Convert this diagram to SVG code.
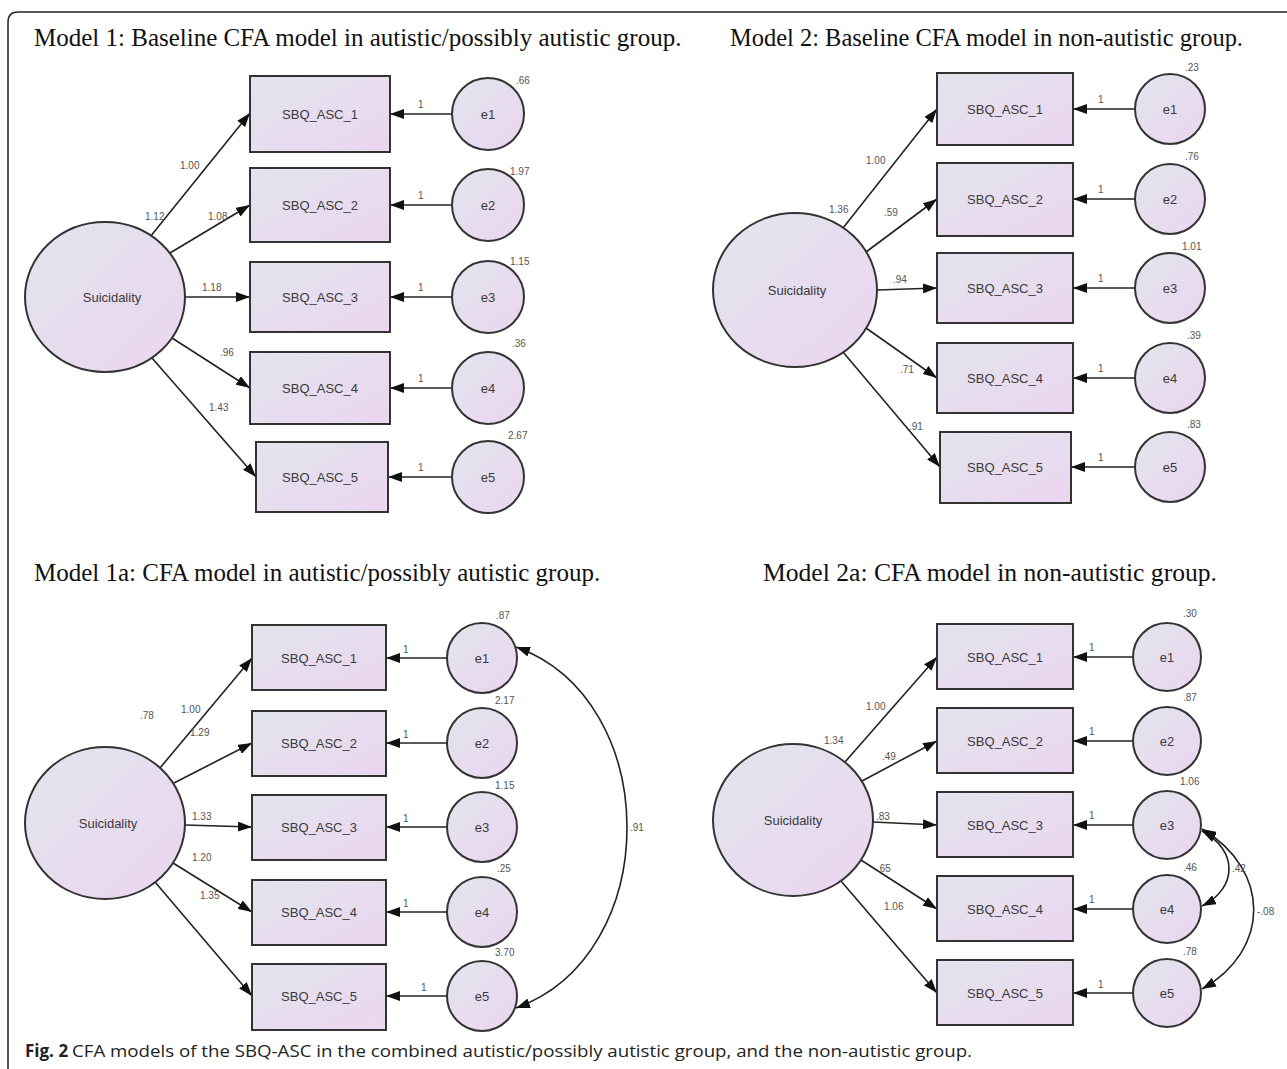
<svg xmlns="http://www.w3.org/2000/svg" width="1287" height="1069" viewBox="0 0 1287 1069">
<style>
.title{font-family:"Liberation Serif","Times New Roman",serif;font-size:25px;fill:#111}
.node{stroke:#333;stroke-width:2}
.box{fill:url(#g)}
.circ{fill:url(#g)}
.lab{font-family:"Liberation Sans",Arial,sans-serif;font-size:13px;fill:#3a3a3a;text-anchor:middle;dominant-baseline:central}
.num{font-family:"Liberation Sans",Arial,sans-serif;font-size:10px;fill:#555}
.con line,.con path{stroke:#222;stroke-width:1.6;fill:none}
.cap{font-family:"Open Sans","Noto Sans",sans-serif;font-size:17px;fill:#222}
</style>
<defs>
<linearGradient id="g" x1="0" y1="0" x2="1" y2="1">
<stop offset="0" stop-color="#e1e5ec"/>
<stop offset="1" stop-color="#ecd5f1"/>
</linearGradient>
<marker id="ah" viewBox="0 0 14 10" refX="14" refY="5" markerWidth="14" markerHeight="10" markerUnits="userSpaceOnUse" orient="auto-start-reverse">
<path d="M0,0 L14,5 L0,10 z" fill="#111"/>
</marker>
</defs>
<rect width="1287" height="1069" fill="#fff"/>
<path d="M8,1069 V22 Q8,12 18,12 H1287" fill="none" stroke="#222" stroke-width="1.5"/>

<text class="title" x="34" y="46">Model 1: Baseline CFA model in autistic/possibly autistic group.</text>
<text class="title" x="730" y="46" textLength="513" lengthAdjust="spacingAndGlyphs">Model 2: Baseline CFA model in non-autistic group.</text>
<text class="title" x="34" y="581">Model 1a: CFA model in autistic/possibly autistic group.</text>
<text class="title" x="763" y="581" textLength="454" lengthAdjust="spacingAndGlyphs">Model 2a: CFA model in non-autistic group.</text>

<!-- connectors -->
<g class="con" id="connectors">
<!-- Model 1 -->
<line x1="150" y1="237" x2="250" y2="113" marker-end="url(#ah)"/>
<line x1="170" y1="253" x2="250" y2="205" marker-end="url(#ah)"/>
<line x1="185" y1="297" x2="250" y2="297" marker-end="url(#ah)"/>
<line x1="172" y1="338" x2="250" y2="388" marker-end="url(#ah)"/>
<line x1="152" y1="358" x2="256" y2="477" marker-end="url(#ah)"/>
<line x1="452" y1="114" x2="390" y2="114" marker-end="url(#ah)"/>
<line x1="452" y1="205" x2="390" y2="205" marker-end="url(#ah)"/>
<line x1="452" y1="297" x2="390" y2="297" marker-end="url(#ah)"/>
<line x1="452" y1="388" x2="390" y2="388" marker-end="url(#ah)"/>
<line x1="452" y1="477" x2="388" y2="477" marker-end="url(#ah)"/>
<!-- Model 2 -->
<line x1="843" y1="228" x2="937" y2="109" marker-end="url(#ah)"/>
<line x1="866" y1="252" x2="937" y2="199" marker-end="url(#ah)"/>
<line x1="877" y1="290" x2="937" y2="288" marker-end="url(#ah)"/>
<line x1="866" y1="328" x2="937" y2="378" marker-end="url(#ah)"/>
<line x1="843" y1="352" x2="940" y2="467" marker-end="url(#ah)"/>
<line x1="1135" y1="109" x2="1073" y2="109" marker-end="url(#ah)"/>
<line x1="1135" y1="199" x2="1073" y2="199" marker-end="url(#ah)"/>
<line x1="1135" y1="288" x2="1073" y2="288" marker-end="url(#ah)"/>
<line x1="1135" y1="378" x2="1073" y2="378" marker-end="url(#ah)"/>
<line x1="1135" y1="467" x2="1071" y2="467" marker-end="url(#ah)"/>
<!-- Model 1a -->
<line x1="160" y1="768" x2="252" y2="658" marker-end="url(#ah)"/>
<line x1="174" y1="783" x2="252" y2="743" marker-end="url(#ah)"/>
<line x1="185" y1="825" x2="252" y2="827" marker-end="url(#ah)"/>
<line x1="173" y1="863" x2="252" y2="912" marker-end="url(#ah)"/>
<line x1="155" y1="882" x2="252" y2="996" marker-end="url(#ah)"/>
<line x1="447" y1="658" x2="386" y2="658" marker-end="url(#ah)"/>
<line x1="447" y1="743" x2="386" y2="743" marker-end="url(#ah)"/>
<line x1="447" y1="827" x2="386" y2="827" marker-end="url(#ah)"/>
<line x1="447" y1="912" x2="386" y2="912" marker-end="url(#ah)"/>
<line x1="447" y1="996" x2="386" y2="996" marker-end="url(#ah)"/>
<path d="M516,647 C664,700 664,955 516,1008" marker-start="url(#ah)" marker-end="url(#ah)"/>
<!-- Model 2a -->
<line x1="845" y1="762" x2="937" y2="657" marker-end="url(#ah)"/>
<line x1="862" y1="781" x2="937" y2="741" marker-end="url(#ah)"/>
<line x1="873" y1="822" x2="937" y2="825" marker-end="url(#ah)"/>
<line x1="861" y1="860" x2="937" y2="909" marker-end="url(#ah)"/>
<line x1="841" y1="881" x2="937" y2="993" marker-end="url(#ah)"/>
<line x1="1133" y1="657" x2="1073" y2="657" marker-end="url(#ah)"/>
<line x1="1133" y1="741" x2="1073" y2="741" marker-end="url(#ah)"/>
<line x1="1133" y1="825" x2="1073" y2="825" marker-end="url(#ah)"/>
<line x1="1133" y1="909" x2="1073" y2="909" marker-end="url(#ah)"/>
<line x1="1133" y1="993" x2="1073" y2="993" marker-end="url(#ah)"/>
<path d="M1202,831 C1238,850 1238,888 1202,906" marker-start="url(#ah)" marker-end="url(#ah)"/>
<path d="M1202,829 C1271,870 1271,950 1202,989" marker-start="url(#ah)" marker-end="url(#ah)"/>
</g>

<!-- connector labels -->
<g class="num" id="labels">
<text x="180" y="169">1.00</text><text x="145" y="220">1.12</text><text x="208" y="220">1.08</text>
<text x="202" y="291">1.18</text><text x="220" y="356">.96</text><text x="209" y="411">1.43</text>
<text x="418" y="108">1</text><text x="418" y="199">1</text><text x="418" y="291">1</text><text x="418" y="382">1</text><text x="418" y="471">1</text>
<text x="866" y="164">1.00</text><text x="829" y="213">1.36</text><text x="884" y="216">.59</text>
<text x="893" y="283">.94</text><text x="900" y="373">.71</text><text x="909" y="430">.91</text>
<text x="1098" y="103">1</text><text x="1098" y="193">1</text><text x="1098" y="282">1</text><text x="1098" y="372">1</text><text x="1098" y="461">1</text>
<text x="181" y="713">1.00</text><text x="140" y="719">.78</text><text x="190" y="736">1.29</text>
<text x="192" y="820">1.33</text><text x="192" y="861">1.20</text><text x="200" y="899">1.35</text>
<text x="403" y="653">1</text><text x="403" y="738">1</text><text x="403" y="822">1</text><text x="403" y="907">1</text><text x="421" y="991">1</text>
<text x="630" y="831">.91</text>
<text x="866" y="710">1.00</text><text x="824" y="744">1.34</text><text x="882" y="760">.49</text>
<text x="876" y="820">.83</text><text x="877" y="872">.65</text><text x="884" y="910">1.06</text>
<text x="1089" y="651">1</text><text x="1089" y="735">1</text><text x="1089" y="819">1</text><text x="1089" y="903">1</text><text x="1098" y="988">1</text>
<text x="1232" y="872">.42</text>
<text x="1257" y="915">-.08</text>
</g>

<!-- Model 1 nodes -->
<g id="m1-suicidality"><ellipse class="node circ" cx="105" cy="297" rx="80" ry="75"/><text class="lab" x="112" y="297">Suicidality</text></g>
<g id="m1-sbq1"><rect class="node box" x="250" y="76" width="140" height="76"/><text class="lab" x="320" y="114">SBQ_ASC_1</text></g>
<g id="m1-sbq2"><rect class="node box" x="250" y="168" width="140" height="74"/><text class="lab" x="320" y="205">SBQ_ASC_2</text></g>
<g id="m1-sbq3"><rect class="node box" x="250" y="262" width="140" height="70"/><text class="lab" x="320" y="297">SBQ_ASC_3</text></g>
<g id="m1-sbq4"><rect class="node box" x="250" y="352" width="140" height="72"/><text class="lab" x="320" y="388">SBQ_ASC_4</text></g>
<g id="m1-sbq5"><rect class="node box" x="256" y="442" width="132" height="70"/><text class="lab" x="320" y="477">SBQ_ASC_5</text></g>
<g id="m1-e1"><circle class="node circ" cx="488" cy="114" r="36"/><text class="lab" x="488" y="114">e1</text><text class="num" x="516" y="84">.66</text></g>
<g id="m1-e2"><circle class="node circ" cx="488" cy="205" r="36"/><text class="lab" x="488" y="205">e2</text><text class="num" x="510" y="175">1.97</text></g>
<g id="m1-e3"><circle class="node circ" cx="488" cy="297" r="36"/><text class="lab" x="488" y="297">e3</text><text class="num" x="510" y="265">1.15</text></g>
<g id="m1-e4"><circle class="node circ" cx="488" cy="388" r="36"/><text class="lab" x="488" y="388">e4</text><text class="num" x="512" y="347">.36</text></g>
<g id="m1-e5"><circle class="node circ" cx="488" cy="477" r="36"/><text class="lab" x="488" y="477">e5</text><text class="num" x="508" y="439">2.67</text></g>

<!-- Model 2 nodes -->
<g id="m2-suicidality"><ellipse class="node circ" cx="795" cy="290" rx="82" ry="77"/><text class="lab" x="797" y="290">Suicidality</text></g>
<g id="m2-sbq1"><rect class="node box" x="937" y="73" width="136" height="72"/><text class="lab" x="1005" y="109">SBQ_ASC_1</text></g>
<g id="m2-sbq2"><rect class="node box" x="937" y="163" width="136" height="73"/><text class="lab" x="1005" y="199">SBQ_ASC_2</text></g>
<g id="m2-sbq3"><rect class="node box" x="937" y="253" width="136" height="70"/><text class="lab" x="1005" y="288">SBQ_ASC_3</text></g>
<g id="m2-sbq4"><rect class="node box" x="937" y="343" width="136" height="70"/><text class="lab" x="1005" y="378">SBQ_ASC_4</text></g>
<g id="m2-sbq5"><rect class="node box" x="940" y="432" width="131" height="71"/><text class="lab" x="1005" y="467">SBQ_ASC_5</text></g>
<g id="m2-e1"><circle class="node circ" cx="1170" cy="109" r="35"/><text class="lab" x="1170" y="109">e1</text><text class="num" x="1185" y="71">.23</text></g>
<g id="m2-e2"><circle class="node circ" cx="1170" cy="199" r="35"/><text class="lab" x="1170" y="199">e2</text><text class="num" x="1185" y="160">.76</text></g>
<g id="m2-e3"><circle class="node circ" cx="1170" cy="288" r="35"/><text class="lab" x="1170" y="288">e3</text><text class="num" x="1182" y="250">1.01</text></g>
<g id="m2-e4"><circle class="node circ" cx="1170" cy="378" r="35"/><text class="lab" x="1170" y="378">e4</text><text class="num" x="1187" y="339">.39</text></g>
<g id="m2-e5"><circle class="node circ" cx="1170" cy="467" r="35"/><text class="lab" x="1170" y="467">e5</text><text class="num" x="1187" y="428">.83</text></g>

<!-- Model 1a nodes -->
<g id="m1a-suicidality"><ellipse class="node circ" cx="105" cy="823" rx="80" ry="76"/><text class="lab" x="108" y="823">Suicidality</text></g>
<g id="m1a-sbq1"><rect class="node box" x="252" y="625" width="134" height="65"/><text class="lab" x="319" y="658">SBQ_ASC_1</text></g>
<g id="m1a-sbq2"><rect class="node box" x="252" y="711" width="134" height="65"/><text class="lab" x="319" y="743">SBQ_ASC_2</text></g>
<g id="m1a-sbq3"><rect class="node box" x="252" y="795" width="134" height="65"/><text class="lab" x="319" y="827">SBQ_ASC_3</text></g>
<g id="m1a-sbq4"><rect class="node box" x="252" y="880" width="134" height="65"/><text class="lab" x="319" y="912">SBQ_ASC_4</text></g>
<g id="m1a-sbq5"><rect class="node box" x="252" y="964" width="134" height="66"/><text class="lab" x="319" y="996">SBQ_ASC_5</text></g>
<g id="m1a-e1"><circle class="node circ" cx="482" cy="658" r="35"/><text class="lab" x="482" y="658">e1</text><text class="num" x="496" y="619">.87</text></g>
<g id="m1a-e2"><circle class="node circ" cx="482" cy="743" r="35"/><text class="lab" x="482" y="743">e2</text><text class="num" x="495" y="704">2.17</text></g>
<g id="m1a-e3"><circle class="node circ" cx="482" cy="827" r="35"/><text class="lab" x="482" y="827">e3</text><text class="num" x="495" y="789">1.15</text></g>
<g id="m1a-e4"><circle class="node circ" cx="482" cy="912" r="35"/><text class="lab" x="482" y="912">e4</text><text class="num" x="497" y="872">.25</text></g>
<g id="m1a-e5"><circle class="node circ" cx="482" cy="996" r="35"/><text class="lab" x="482" y="996">e5</text><text class="num" x="495" y="956">3.70</text></g>

<!-- Model 2a nodes -->
<g id="m2a-suicidality"><ellipse class="node circ" cx="793" cy="820" rx="80" ry="76"/><text class="lab" x="793" y="820">Suicidality</text></g>
<g id="m2a-sbq1"><rect class="node box" x="937" y="624" width="136" height="65"/><text class="lab" x="1005" y="657">SBQ_ASC_1</text></g>
<g id="m2a-sbq2"><rect class="node box" x="937" y="708" width="136" height="65"/><text class="lab" x="1005" y="741">SBQ_ASC_2</text></g>
<g id="m2a-sbq3"><rect class="node box" x="937" y="792" width="136" height="65"/><text class="lab" x="1005" y="825">SBQ_ASC_3</text></g>
<g id="m2a-sbq4"><rect class="node box" x="937" y="876" width="136" height="65"/><text class="lab" x="1005" y="909">SBQ_ASC_4</text></g>
<g id="m2a-sbq5"><rect class="node box" x="937" y="960" width="136" height="65"/><text class="lab" x="1005" y="993">SBQ_ASC_5</text></g>
<g id="m2a-e1"><circle class="node circ" cx="1167" cy="657" r="34"/><text class="lab" x="1167" y="657">e1</text><text class="num" x="1183" y="617">.30</text></g>
<g id="m2a-e2"><circle class="node circ" cx="1167" cy="741" r="34"/><text class="lab" x="1167" y="741">e2</text><text class="num" x="1183" y="701">.87</text></g>
<g id="m2a-e3"><circle class="node circ" cx="1167" cy="825" r="34"/><text class="lab" x="1167" y="825">e3</text><text class="num" x="1180" y="785">1.06</text></g>
<g id="m2a-e4"><circle class="node circ" cx="1167" cy="909" r="34"/><text class="lab" x="1167" y="909">e4</text><text class="num" x="1183" y="871">.46</text></g>
<g id="m2a-e5"><circle class="node circ" cx="1167" cy="993" r="34"/><text class="lab" x="1167" y="993">e5</text><text class="num" x="1183" y="955">.78</text></g>

<text class="cap" x="25" y="1057" font-weight="bold">Fig. 2</text>
<text class="cap" x="72" y="1057" textLength="900" lengthAdjust="spacingAndGlyphs">CFA models of the SBQ-ASC in the combined autistic/possibly autistic group, and the non-autistic group.</text>
</svg>
